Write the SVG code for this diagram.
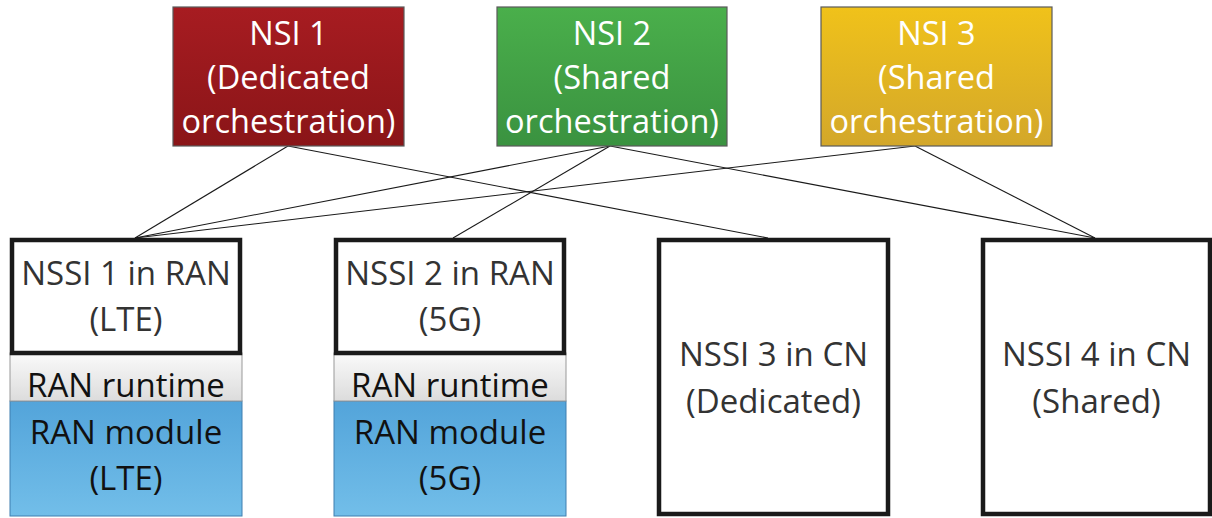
<svg xmlns="http://www.w3.org/2000/svg" width="1212" height="518" viewBox="0 0 1212 518">
<style>
.top{stroke:#5a5a5a;stroke-width:1.2}
.tw{font-family:"Open Sans","Noto Sans",sans-serif;font-size:32.5px;fill:#ffffff;text-anchor:middle}
.bt{font-family:"Open Sans","Noto Sans",sans-serif;font-size:33px;fill:#333333;text-anchor:middle}
.bk{font-family:"Open Sans","Noto Sans",sans-serif;font-size:33px;fill:#111111;text-anchor:middle}
.frame{fill:#ffffff;stroke:#1a1a1a;stroke-width:4.5}
.conn{stroke:#1a1a1a;stroke-width:1.1;fill:none}
</style>
<defs>
<linearGradient id="gRed" x1="0" y1="0" x2="0" y2="1"><stop offset="0" stop-color="#a71c21"/><stop offset="1" stop-color="#8a1518"/></linearGradient>
<linearGradient id="gGreen" x1="0" y1="0" x2="0" y2="1"><stop offset="0" stop-color="#4aaf4b"/><stop offset="1" stop-color="#3a9240"/></linearGradient>
<linearGradient id="gGold" x1="0" y1="0" x2="0" y2="1"><stop offset="0" stop-color="#f0c21a"/><stop offset="1" stop-color="#d3a72a"/></linearGradient>
<linearGradient id="gRun" x1="0" y1="0" x2="0" y2="1"><stop offset="0" stop-color="#fafafa"/><stop offset="1" stop-color="#dcdcdc"/></linearGradient>
<linearGradient id="gBlue" x1="0" y1="0" x2="0" y2="1"><stop offset="0" stop-color="#53a4da"/><stop offset="1" stop-color="#72bee9"/></linearGradient>
</defs>
<g id="connectors">
<line class="conn" x1="288" y1="146" x2="135" y2="238"/>
<line class="conn" x1="288" y1="146" x2="768" y2="238"/>
<line class="conn" x1="610" y1="146" x2="135" y2="238"/>
<line class="conn" x1="610" y1="146" x2="453" y2="238"/>
<line class="conn" x1="610" y1="146" x2="1095" y2="238"/>
<line class="conn" x1="915" y1="146" x2="135" y2="238"/>
<line class="conn" x1="915" y1="146" x2="1095" y2="238"/>
</g>
<g id="nsi1">
<rect class="top" x="173" y="7" width="231" height="139" fill="url(#gRed)"/>
<text class="tw" x="288.5" y="45">NSI 1</text>
<text class="tw" x="288.5" y="89">(Dedicated</text>
<text class="tw" x="288.5" y="133">orchestration)</text>
</g>
<g id="nsi2">
<rect class="top" x="497" y="7" width="230" height="139" fill="url(#gGreen)"/>
<text class="tw" x="612" y="45">NSI 2</text>
<text class="tw" x="612" y="89">(Shared</text>
<text class="tw" x="612" y="133">orchestration)</text>
</g>
<g id="nsi3">
<rect class="top" x="821" y="7" width="231" height="139" fill="url(#gGold)"/>
<text class="tw" x="936.5" y="45">NSI 3</text>
<text class="tw" x="936.5" y="89">(Shared</text>
<text class="tw" x="936.5" y="133">orchestration)</text>
</g>
<g id="nssi1">
<rect x="10" y="401" width="232" height="115" fill="url(#gBlue)" stroke="#3f7fb0" stroke-width="1"/>
<rect x="10" y="353" width="232" height="48" fill="url(#gRun)" stroke="#999999" stroke-width="1"/>
<rect class="frame" x="12" y="240" width="228" height="113"/>
<text class="bt" x="126" y="285">NSSI 1 in RAN</text>
<text class="bt" x="126" y="331">(LTE)</text>
<text class="bk" x="126" y="397">RAN runtime</text>
<text class="bk" x="126" y="444">RAN module</text>
<text class="bk" x="126" y="490">(LTE)</text>
</g>
<g id="nssi2">
<rect x="334" y="401" width="232" height="115" fill="url(#gBlue)" stroke="#3f7fb0" stroke-width="1"/>
<rect x="334" y="353" width="232" height="48" fill="url(#gRun)" stroke="#999999" stroke-width="1"/>
<rect class="frame" x="336" y="240" width="228" height="113"/>
<text class="bt" x="450" y="285">NSSI 2 in RAN</text>
<text class="bt" x="450" y="331">(5G)</text>
<text class="bk" x="450" y="397">RAN runtime</text>
<text class="bk" x="450" y="444">RAN module</text>
<text class="bk" x="450" y="490">(5G)</text>
</g>
<g id="nssi3">
<rect class="frame" x="659" y="240" width="229" height="274"/>
<text class="bt" x="773.5" y="366">NSSI 3 in CN</text>
<text class="bt" x="773.5" y="413">(Dedicated)</text>
</g>
<g id="nssi4">
<rect class="frame" x="983" y="240" width="227" height="274"/>
<text class="bt" x="1096.5" y="366">NSSI 4 in CN</text>
<text class="bt" x="1096.5" y="413">(Shared)</text>
</g>
</svg>
